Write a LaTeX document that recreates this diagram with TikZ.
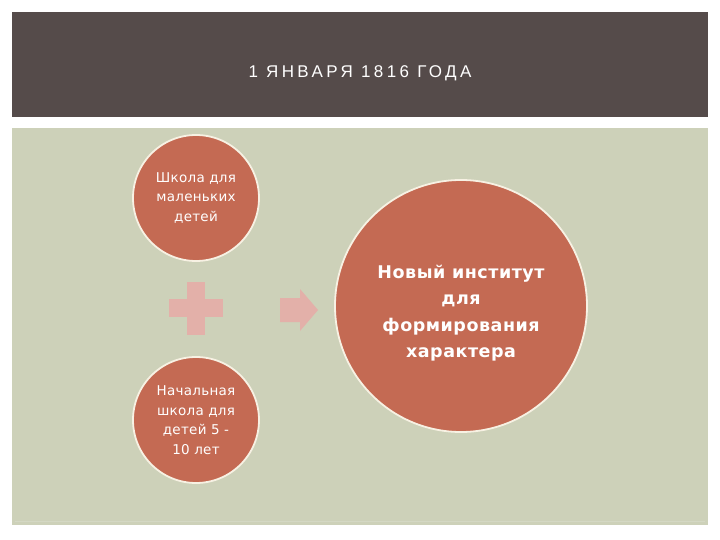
\documentclass[tikz,border=0pt]{standalone}
\usepackage{fontspec}
\setmainfont{Liberation Sans}
\newfontfamily\rounded{DejaVu Sans}
\usepackage{tikz}

\definecolor{banddark}{HTML}{554B4A}
\definecolor{panelgreen}{HTML}{CDD1B9}
\definecolor{circlered}{HTML}{C46A53}
\definecolor{rimcream}{HTML}{F7F1E3}
\definecolor{signpink}{HTML}{E3B0A9}

\begin{document}
\begin{tikzpicture}[x=1pt, y=-1pt]
\tikzstyle{every node} = [text=white, align=center]
\tikzstyle{small} = [circle, fill=circlered, draw=rimcream, line width=1.8pt,
  minimum size=126pt, inner sep=0pt,
  font=\rounded\fontsize{13.5}{19.5}\selectfont\addfontfeature{LetterSpace=2}]
\tikzstyle{big} = [circle, fill=circlered, draw=rimcream, line width=1.8pt,
  minimum size=252pt, inner sep=0pt]
\tikzstyle{bigtext} = [font=\rounded\fontsize{17.5}{26.3}\selectfont\bfseries\addfontfeature{LetterSpace=3}]
\fill [white] (0, 0) rectangle (720, 540);
\fill [banddark] (12, 12) rectangle (708, 117);
\fill [panelgreen] (12, 128) rectangle (708, 525);
\draw [panelgreen!85!white, line width=0.8pt] (15, 521) -- (705, 521);
\node (title) at (360, 73) {\fontsize{17}{19}\selectfont\addfontfeature{LetterSpace=20}1 ЯНВАРЯ 1816 ГОДА};
\node [small] (a) at (196, 198) {Школа для\\маленьких\\детей};
\node [small] (b) at (196, 420) {Начальная\\школа для\\детей 5 -\\10 лет};
\node [big] (c) at (461, 306) {};
\node [bigtext] (ctext) at (461, 313) {Новый институт\\для\\формирования\\характера};
\fill [signpink] (187, 282) rectangle (205, 335);
\fill [signpink] (169, 299) rectangle (223, 317);
\fill [signpink] (280, 298) -- (300, 298) -- (300, 289) -- (318, 310)
  -- (300, 331) -- (300, 322) -- (280, 322) -- cycle;
\end{tikzpicture}
\end{document}
